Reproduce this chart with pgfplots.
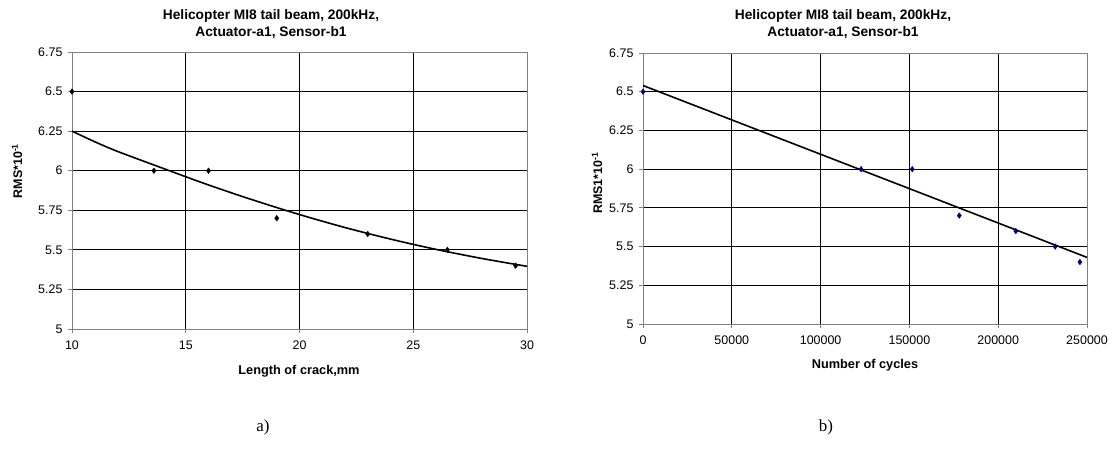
\documentclass[border=0pt]{standalone}
\usepackage{fontspec}
\setmainfont{Liberation Sans}
\newfontfamily\capserif{Liberation Serif}
\usepackage{pgfplots}
\pgfplotsset{compat=1.18}
\definecolor{navy}{RGB}{0,0,128}
\definecolor{axgray}{RGB}{128,128,128}
\begin{document}
\begin{tikzpicture}
\useasboundingbox (0,0) rectangle (1113bp,455bp);
\pgfplotsset{
  myaxis/.style={
    scale only axis,
    anchor=south west,
    axis line style={axgray, line width=0.8bp},
    grid=major,
    major grid style={black, line width=0.75bp},
    tick style={axgray, line width=0.8bp},
    tick align=outside,
    major tick length=4bp,
    tick label style={font=\fontsize{12.5}{13}\selectfont},
    yticklabel style={xshift=-2bp},
    xticklabel style={yshift=-4bp},
    /pgf/number format/assume math mode=true,
    ymin=5, ymax=6.75,
    ytick={5,5.25,5.5,5.75,6,6.25,6.5,6.75},
    yticklabels={5,5.25,5.5,5.75,6,6.25,6.5,6.75},
    xtick pos=bottom, ytick pos=left,
    clip=false,
  }
}
% ---------- left chart ----------
\begin{axis}[myaxis,
  at={(72bp,126bp)}, width=455bp, height=277bp,
  xmin=10, xmax=30, xtick={10,15,20,25,30},
]
\addplot[black, line width=1.6bp, smooth] coordinates {
 (10,6.250) (11,6.183) (12,6.122) (14,6.015) (16,5.910) (18,5.813) (20,5.723)
 (22,5.641) (24,5.568) (26,5.503) (28,5.446) (30,5.396)};
\addplot[only marks, mark=diamond*, mark size=2.8bp, black] coordinates {
 (10,6.5) (13.6,6.0) (16,6.0) (19,5.7) (23,5.6) (26.5,5.5) (29.5,5.4)};
\end{axis}
% ---------- right chart ----------
\begin{axis}[myaxis,
  at={(643bp,131bp)}, width=444bp, height=271bp,
  xmin=0, xmax=250000, xtick={0,50000,100000,150000,200000,250000},
  scaled x ticks=false,
  xticklabel style={/pgf/number format/fixed, /pgf/number format/1000 sep={}},
]
\addplot[black, line width=1.6bp] coordinates {(0,6.54) (250000,5.43)};
\addplot[only marks, mark=diamond*, mark size=2.8bp, navy] coordinates {
 (0,6.5) (122800,6.0) (151600,6.0) (178100,5.7) (209900,5.6) (232100,5.5) (246000,5.4)};
\end{axis}
% ---------- titles ----------
\node[align=center, font=\bfseries\fontsize{13.8}{17}\selectfont] at (271bp,431bp)
  {Helicopter MI8 tail beam, 200kHz,\\Actuator-a1, Sensor-b1};
\node[align=center, font=\bfseries\fontsize{13.8}{17}\selectfont] at (843bp,431bp)
  {Helicopter MI8 tail beam, 200kHz,\\Actuator-a1, Sensor-b1};
% ---------- axis labels ----------
\node[font=\bfseries\fontsize{12.8}{14}\selectfont] at (299bp,84bp) {Length of crack,mm};
\node[font=\bfseries\fontsize{12.8}{14}\selectfont] at (865bp,90bp) {Number of cycles};
\node[rotate=90, font=\bfseries\fontsize{12.5}{14}\selectfont] at (17bp,284bp) {RMS*10\textsuperscript{-1}};
\node[rotate=90, font=\bfseries\fontsize{12.5}{14}\selectfont] at (597bp,272bp) {RMS1*10\textsuperscript{-1}};
% ---------- captions ----------
\node[font=\capserif\fontsize{17}{20}\selectfont] at (263bp,28bp) {a)};
\node[font=\capserif\fontsize{17}{20}\selectfont] at (826bp,28bp) {b)};
\end{tikzpicture}
\end{document}
